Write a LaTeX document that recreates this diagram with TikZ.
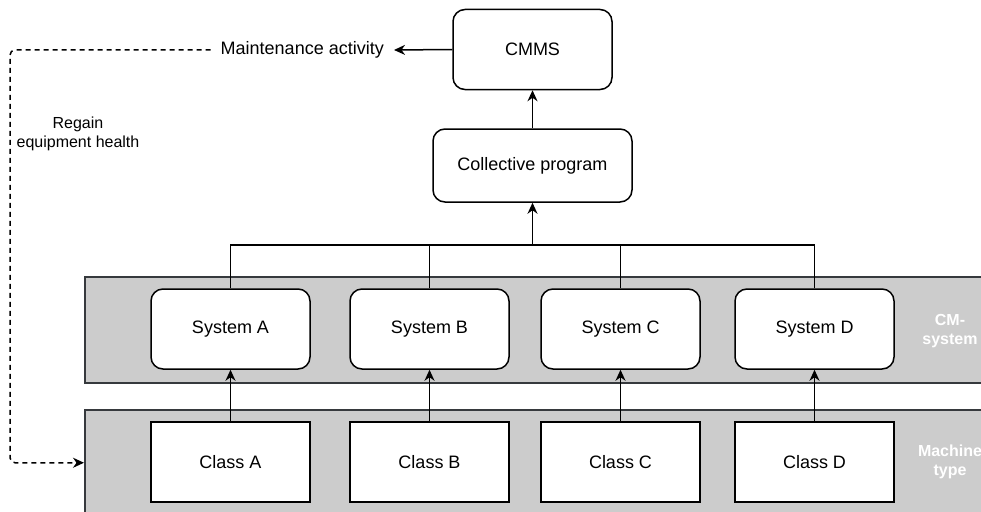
\documentclass[tikz,border=0pt]{standalone}
\usepackage{fontspec}
\setmainfont{Liberation Sans}
\usetikzlibrary{arrows.meta}
\definecolor{bandfill}{HTML}{CCCCCC}
\definecolor{bandline}{HTML}{36393D}
\tikzset{
  box/.style={draw=black, line width=1.5pt, fill=white, rounded corners=12pt,
    minimum width=159pt, minimum height=80pt, inner sep=0pt,
    font=\fontsize{18}{21.6}\selectfont},
  sqbox/.style={box, rounded corners=0pt},
  band/.style={draw=bandline, line width=1.5pt, fill=bandfill, anchor=north west, inner sep=0pt},
  bandlabel/.style={text=white, align=center, font=\fontsize{16}{19}\selectfont\bfseries},
  plain/.style={align=center, font=\fontsize{18}{21.6}\selectfont},
  small/.style={align=center, font=\fontsize{16}{19}\selectfont},
  arr/.style={line width=1.5pt, -{Stealth[length=11pt,width=10pt,inset=3.5pt]}},
  conn/.style={line width=1.5pt},
}
\begin{document}
\begin{tikzpicture}[x=1pt,y=-1pt]
\useasboundingbox (0,0) rectangle (981,511);
\clip (0,0) rectangle (981,511);
% bands
\node[band, minimum width=910pt, minimum height=106pt] (cmband) at (84,276) {};
\node[band, minimum width=910pt, minimum height=106pt] (mband) at (84,409) {};
\node[bandlabel] (cmlab) at (950,331) {CM-\\system};
\node[bandlabel] (mlab) at (950,462) {Machine\\type};
% top boxes
\node[box] (cmms) at (532.5,49.5) {CMMS};
\node[box, minimum width=199pt, minimum height=73pt] (colp) at (532.5,165.5) {Collective program};
% systems
\node[box] (sysA) at (230.5,329) {System A};
\node[box] (sysB) at (429.5,329) {System B};
\node[box] (sysC) at (620.5,329) {System C};
\node[box] (sysD) at (814.5,329) {System D};
% classes
\node[sqbox] (clsA) at (230.5,462) {Class A};
\node[sqbox] (clsB) at (429.5,462) {Class B};
\node[sqbox] (clsC) at (620.5,462) {Class C};
\node[sqbox] (clsD) at (814.5,462) {Class D};
% texts
\node[plain, anchor=east, inner xsep=10pt] (maint) at (394,50) {Maintenance activity};
\node[small] (regain) at (78,134) {Regain\\equipment health};
% connectors
\coordinate (bus) at (532.5,245);
\draw[conn] (sysA.north) |- (bus);
\draw[conn] (sysB.north) |- (bus);
\draw[conn] (sysC.north) |- (bus);
\draw[conn] (sysD.north) |- (bus);
\draw[arr] (bus) -- (colp.south);
\draw[arr] (colp.north) -- (cmms.south);
\draw[arr] (cmms.west) -- (maint.east);
\draw[arr] (clsA.north) -- (sysA.south);
\draw[arr] (clsB.north) -- (sysB.south);
\draw[arr] (clsC.north) -- (sysC.south);
\draw[arr] (clsD.north) -- (sysD.south);
\coordinate (dl) at (10,250);
\draw[arr, dashed, dash pattern=on 5pt off 4pt, rounded corners=5pt] (maint.west) -| (dl) |- (mband.west);
\end{tikzpicture}
\end{document}
